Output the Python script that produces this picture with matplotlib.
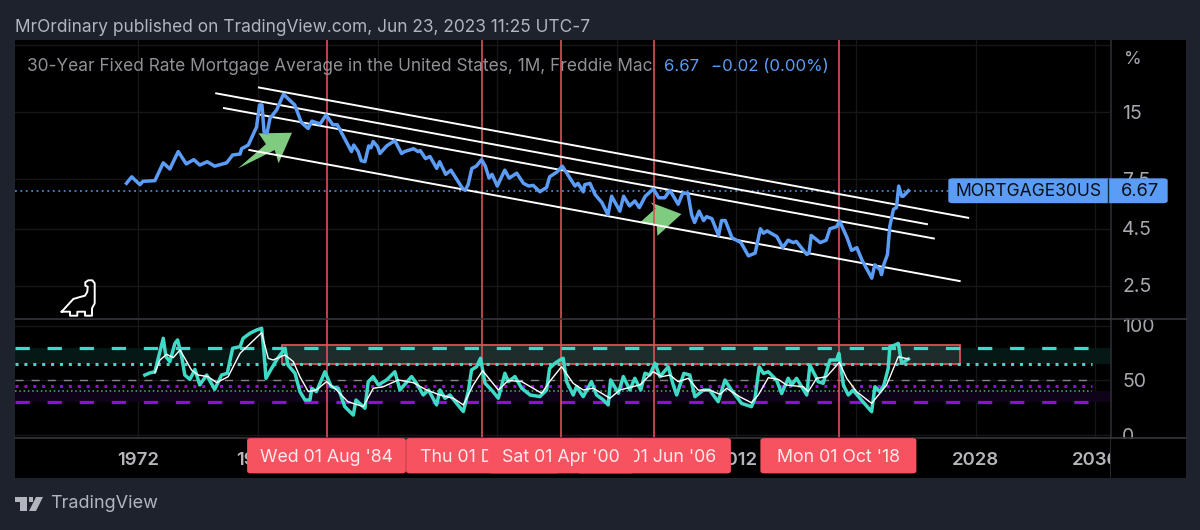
import matplotlib
matplotlib.use("Agg")
import matplotlib.pyplot as plt
from matplotlib.patches import FancyBboxPatch, Polygon, Rectangle
from matplotlib.lines import Line2D

plt.rcParams['font.family'] = ['Inter', 'DejaVu Sans']
plt.rcParams['lines.scale_dashes'] = False

# mortgage rate
rate_years = [1971.2,1971.55,1972.1,1972.3,1973.1,1973.66,1974.1,1974.66,1975.2,1975.7,1976.1,1976.6,1977.1,1977.9,1978.3,1978.8,
    1978.9,1979.35,1979.9,1980.1,1980.26,1980.4,1980.6,1980.8,1981.25,1981.7,1982.0,1982.45,1982.9,1983.35,1983.6,1984.15,
    1984.55,1985.0,1985.3,1985.6,1986.25,1986.4,1986.7,1986.9,1987.15,1987.4,1987.55,1987.7,1988.0,1988.15,1988.6,1989.15,
    1989.6,1989.8,1990.4,1990.7,1990.85,1991.2,1991.5,1991.95,1992.15,1992.55,1992.9,1993.4,1993.7,1993.85,1994.05,1994.3,
    1994.6,1994.95,1995.2,1995.45,1995.65,1996.0,1996.5,1996.8,1997.3,1997.75,1998.1,1998.4,1998.85,1999.3,1999.5,2000.0,
    2000.35,2000.75,2001.2,2001.4,2001.75,2001.85,2002.2,2002.55,2003.0,2003.4,2003.65,2004.2,2004.45,2004.85,2005.2,2005.5,
    2005.9,2006.45,2006.8,2007.2,2007.55,2008.1,2008.4,2008.75,2009.0,2009.2,2009.5,2009.8,2010.0,2010.35,2010.8,2011.0,
    2011.25,2011.7,2012.3,2012.8,2013.25,2013.6,2013.8,2014.05,2014.7,2015.1,2015.45,2015.8,2016.0,2016.7,2016.85,2017.0,
    2017.6,2018.0,2018.25,2018.7,2018.9,2019.4,2019.7,2020.05,2020.4,2021.05,2021.25,2021.6,2021.7,2021.85,2022.1,2022.25,
    2022.5,2022.7,2022.85,2023.05,2023.15,2023.5]
rate_values = [7.2,7.7,7.1,7.35,7.4,8.9,8.35,10.0,8.8,9.2,8.7,9.0,8.6,8.9,9.65,9.75,
    10.3,10.7,12.9,16.2,16.2,12.3,12.1,14.1,15.4,18.1,17.3,16.2,13.5,12.7,13.7,13.3,
    14.6,13.2,13.2,12.1,10.0,10.7,10.0,9.1,9.0,10.6,10.4,11.1,10.5,9.8,10.6,11.2,
    9.8,10.0,10.3,10.0,10.1,9.3,9.5,8.4,9.0,7.9,8.25,7.3,6.8,6.7,7.1,8.4,
    8.6,9.2,8.6,7.6,7.9,7.0,8.25,7.6,8.0,7.2,7.0,7.05,6.6,6.9,7.7,8.1,
    8.6,7.8,7.0,7.2,6.6,7.1,7.2,6.4,5.9,5.2,6.3,5.4,6.3,5.7,6.0,5.6,
    6.3,6.8,6.2,6.2,6.7,5.8,6.5,6.5,5.2,4.8,5.4,4.9,5.1,5.0,4.2,4.9,
    4.9,4.1,3.9,3.4,3.5,4.5,4.3,4.4,4.15,3.7,4.0,3.9,3.95,3.45,3.5,4.2,
    3.9,4.0,4.5,4.6,4.87,4.1,3.6,3.7,3.25,2.7,3.1,2.95,2.8,3.1,3.45,4.6,
    5.5,5.6,7.0,6.3,6.3,6.67]

# oscillator in the lower pane
osc_years = [1972.43,1972.77,1973.1,1973.44,1973.66,1973.84,1974.1,1974.44,1974.62,1974.89,1975.1,1975.44,1975.78,1976.1,1976.56,1977.1,
    1977.56,1977.94,1978.3,1978.8,1979.0,1979.46,1979.9,1980.24,1980.4,1980.53,1980.84,1981.24,1981.8,1982.0,1982.47,1982.8,
    1983.14,1983.47,1983.6,1983.9,1984.47,1984.9,1985.37,1985.8,1986.37,1986.55,1987.15,1987.37,1987.7,1988.04,1988.6,1989.15,
    1989.49,1990.27,1990.6,1991.05,1991.4,1991.94,1992.17,1992.5,1992.83,1993.28,1993.73,1994.06,1994.28,1994.62,1994.88,1995.18,
    1995.62,1996.07,1996.51,1996.74,1997.18,1997.63,1998.2,1998.85,1999.3,1999.5,1999.86,2000.2,2000.41,2000.64,2001.08,2001.3,
    2001.75,2002.3,2002.64,2003.09,2003.42,2003.58,2004.1,2004.43,2004.87,2005.2,2005.6,2005.88,2006.2,2006.55,2006.88,2007.44,
    2007.77,2008.0,2008.48,2008.88,2009.22,2009.78,2010.2,2010.78,2011.23,2011.67,2012.34,2013.0,2013.24,2013.52,2013.8,2014.13,
    2014.68,2015.02,2015.46,2015.69,2016.02,2016.7,2016.91,2017.47,2017.8,2018.25,2018.7,2018.85,2019.15,2019.48,2019.8,2020.26,
    2021.04,2021.26,2021.6,2021.86,2022.15,2022.26,2022.6,2022.82,2023.05,2023.5]
osc_values = [55,57,58,76.4,88.7,71.9,67.3,84,87.2,71.9,55,51,60.2,45.9,55,41.9,
    55,56.6,79.5,81,88.7,93.3,96.3,97.9,75,52,59.6,68.8,79.5,64.2,56.6,39.8,
    32.1,32.1,42.8,39.8,58,44.3,42.8,26,18.3,32.1,24.5,48.9,53.5,45.9,50.5,58,
    41.3,53.6,47.4,36.7,41.3,27.6,41.3,33.7,36.7,29,21.5,39.8,59.7,62.7,70.4,47.4,
    41.3,33.7,56.6,49,53.6,42.9,36.7,35.2,41.3,61.2,65.8,68.9,70.4,49,36.7,44.4,
    35.2,49,36.7,32.2,27.6,50.5,38.3,53.6,41.3,52,41.3,56.6,55,65.8,53.5,62.6,
    45.8,36.7,56.5,55,35.1,41.2,41.2,30.5,50.4,41.2,29,26,33.6,62.6,56.5,58,
    50.4,38,52,45.8,52,36.7,64.2,48.9,47.4,68.8,68.8,74.9,45.8,36.7,41.2,33.6,
    21.4,44.3,39.7,45.8,61.1,81,82.5,84,65.7,69.7]

# white average of the oscillator
avg_years = [1973.1,1973.44,1973.88,1974.33,1974.78,1975.55,1976.0,1976.67,1977.23,1978.0,1978.8,1980.24,1980.68,1981.0,1981.8,1982.36,
    1982.8,1983.36,1983.9,1984.58,1985.25,1986.0,1987.04,1987.7,1988.38,1989.38,1990.38,1991.27,1992.17,1993.06,1993.73,1994.4,
    1995.02,1996.07,1996.74,1997.63,1998.97,1999.5,2000.3,2001.08,2001.75,2002.42,2003.54,2004.2,2005.55,2006.43,2007.0,2007.55,
    2008.1,2008.77,2009.44,2010.2,2010.9,2011.34,2012.23,2013.0,2013.46,2014.13,2014.8,2015.35,2016.47,2016.8,2017.36,2018.03,
    2018.88,2019.37,2020.04,2021.04,2022.04,2022.82,2023.5]
avg_values = [57,68.8,74,71,78,59.6,55,53.5,48,53.5,75,93.9,70.3,68.8,73.4,67.3,
    53.5,39.8,41.3,48.9,41.3,30.6,26,42.8,44.3,50.5,48,41.3,36.7,33.7,27.6,46,
    59,41.3,50,49,38.3,49,62.7,47.4,41.3,42.9,33.7,41.3,46,58,53.5,55,
    48.9,52,41.2,41.2,37.3,42.8,35,29.6,36.7,52.6,51,45.8,44.3,39.7,52,53.5,
    66.6,52,39.7,29,45.8,71.8,69.7]

# channel lines: start year, start rate, end year, end rate
channel_lines = [(1980.06,19.4,2027.5,5.04),(1977.2,18.26,2024.74,4.72),(1977.72,15.68,2025.2,4.07),(1979.42,10.16,2026.93,2.62)]
marker_years = [1984.58,1994.95,2000.25,2006.5,2018.87]
marker_labels = ["Wed 01 Aug '84","Thu 01 Dec '94","Sat 01 Apr '00","Thu 01 Jun '06","Mon 01 Oct '18"]
tick_years = [1972,1980,1988,1996,2004,2012,2020,2028,2036]
price_ticks = [15,7.5,4.5,2.5]
osc_ticks = [100,50,0]
arrow_up = [(1978.66,8.4),(1980.53,10.8),(1980.04,12.07),(1982.27,12.15),(1981.37,8.85),(1981.12,10.16)]
arrow_down = [(2006.27,5.91),(2008.32,5.24),(2006.71,4.18),(2006.66,4.67),(2005.53,4.79),(2006.58,5.55)]
last_rate = 6.67

W, H = 1200, 530
BG = '#1e222d'
BLUE = '#5b9cf6'
TEAL = '#3ddac6'
PURPLE = '#8c0fd6'
RED = '#dc5159'
GRID = '#161618'
GRAY = '#a6a8ae'
XLIM = (1963.71, 2036.97)
L, R, EDGE = 14.5, 1109.8, 1185.5

fig = plt.figure(figsize=(12, 5.3), dpi=100, facecolor=BG)

def px_axes(x0, y0, x1, y1, **kw):
    return fig.add_axes([x0/W, 1-y1/H, (x1-x0)/W, (y1-y0)/H], **kw)

def fx(x):
    return x/W

def fy(y):
    return 1-y/H

def style(ax):
    ax.set_facecolor('black')
    for s in ax.spines.values():
        s.set_visible(False)
    ax.set_xlim(*XLIM)
    ax.set_xticks(tick_years)
    ax.tick_params(length=0, labelbottom=False, labelleft=False)
    ax.grid(True, color=GRID, lw=1)
    ax.set_axisbelow(True)

# right hand panel goes under everything
ax_side = px_axes(R, 40, EDGE, 478, zorder=0)
ax_side.set_facecolor('black')
ax_side.set_xticks([])
ax_side.set_yticks([])
for s in ax_side.spines.values():
    s.set_visible(False)
ax_side.axvline(ax_side.get_xlim()[0], color='#26282e', lw=2)

# top pane
ax = px_axes(L, 40, R, 319, zorder=1)
style(ax)
ax.set_yscale('log')
ax.set_ylim(1.77, 31.7)
ax.minorticks_off()
ax.set_yticks([30]+price_ticks)
ax.set_yticklabels(['']*5)

for up in marker_years:
    ax.axvline(up, color=RED, lw=1.2, zorder=4)
ax.add_patch(Polygon(arrow_up, closed=True, color='#7fcb80', lw=0, zorder=2))
ax.add_patch(Polygon(arrow_down, closed=True, color='#7fcb80', lw=0, zorder=2))
for x0, y0, x1, y1 in channel_lines:
    ax.plot([x0, x1], [y0, y1], color='white', lw=1.4, zorder=5)
ax.axhline(last_rate, color=BLUE, lw=1.1, dashes=(1.3, 2.6), zorder=3)
ax.plot(rate_years, rate_values, color=BLUE, lw=2.5, solid_joinstyle='round', zorder=6)

# lower pane
ax2 = px_axes(L, 319, R, 438, zorder=1)
style(ax2)
ax2.set_ylim(-2.75, 106.4)
ax2.set_yticks(osc_ticks)
ax2.axhspan(65, 80, color='#051815', lw=0, zorder=1)
ax2.axhspan(30, 40, color='#0e0318', lw=0, zorder=1)
ax2.add_patch(Rectangle((1981.6, 65.4), 2026.93-1981.6, 82.3-65.4, facecolor='#1e2d2b', edgecolor=RED, lw=1.3, zorder=1.5))
line_end = 2035.8
ax2.plot([XLIM[0], line_end], [80, 80], color=TEAL, lw=2.3, dashes=(10.3, 12.8), zorder=2)
ax2.plot([XLIM[0], line_end], [30, 30], color=PURPLE, lw=2.3, dashes=(10.3, 12.8), zorder=2)
ax2.plot([XLIM[0], line_end], [65, 65], color=TEAL, lw=2.2, dashes=(2.2, 4.2), zorder=2)
ax2.plot([XLIM[0], line_end], [45, 45], color=PURPLE, lw=2.2, dashes=(2.2, 4.2), zorder=2)
ax2.plot([XLIM[0], line_end], [40, 40], color='#4fa79b', lw=1.1, dashes=(1.1, 2), zorder=2)
ax2.plot([XLIM[0], line_end], [50, 50], color='#80838a', lw=1, dashes=(5.8, 5.8), zorder=2)
for up in marker_years:
    ax2.axvline(up, color=RED, lw=1.2, zorder=2.5)
ax2.plot(osc_years, osc_values, color=TEAL, lw=2.5, zorder=3)
ax2.plot(avg_years, avg_values, color='white', lw=1.0, zorder=4)

# time axis strip
ax3 = px_axes(L, 438, R, 478, zorder=2)
ax3.set_facecolor('black')
ax3.set_xlim(*XLIM)
ax3.set_ylim(478, 438)
ax3.set_xticks([])
ax3.set_yticks([])
for s in ax3.spines.values():
    s.set_visible(False)
for yr in tick_years:
    ax3.text(yr, 460.5, str(yr), color='#b4b6bc', fontsize=13.4, fontweight='semibold', ha='center', va='center', clip_on=True, zorder=1)

# date flags, later ones cover earlier ones
flags = [(1, 406, 560), (3, 577, 731), (0, 247, 406), (2, 488, 634), (4, 760.3, 916.5)]
trans = fig.transFigure
for order, (i, x0, x1) in enumerate(flags):
    fig.add_artist(FancyBboxPatch((fx(x0+1.5), fy(472)), fx(x1-x0-3), fy(439.5)-fy(472), boxstyle='round,pad=0,rounding_size=0.002',
        facecolor='#f7525f', edgecolor='#f7525f', lw=2, transform=trans, zorder=10+2*order))
    fig.text(fx((x0+x1)/2), fy(457.5), marker_labels[i], color='#fdeaec', fontsize=12.8, ha='center', va='center', zorder=11+2*order)
for px_y in [319, 438]:
    fig.add_artist(Line2D([fx(L), fx(EDGE)], [fy(px_y), fy(px_y)], color='#35363b', lw=1.2, transform=trans, zorder=5))

# price scale labels
for val in price_ticks:
    yy = ax.transData.transform((XLIM[0], val))[1]
    fig.text(fx(1122), (yy-1.5)/530, str(val), color=GRAY, fontsize=14, ha='left', va='center', zorder=3)
fig.text(fx(1124.5), fy(60), '%', color=GRAY, fontsize=13, ha='left', va='center', zorder=3)
for val in osc_ticks:
    yy = ax2.transData.transform((XLIM[0], val))[1]
    fig.text(fx(1122), (yy-1.5)/530, str(val), color=GRAY, fontsize=14, ha='left', va='center', zorder=3)
# cover the part of the 0 that runs under the time strip
fig.add_artist(Rectangle((fx(1111), fy(478)), fx(74), fy(438.6)-fy(478), facecolor='black', lw=0, transform=trans, zorder=4))

# last value tag
fig.add_artist(FancyBboxPatch((fx(949), fy(202.5)), fx(218), fy(179)-fy(202.5), boxstyle='round,pad=0,rounding_size=0.003',
    facecolor=BLUE, edgecolor=BLUE, lw=1, transform=trans, zorder=8))
fig.add_artist(Line2D([fx(1108), fx(1108)], [fy(179), fy(203)], color='#10263f', lw=1, transform=trans, zorder=9))
fig.text(fx(1028.6), fy(192), 'MORTGAGE30US', color='#0b0e14', fontsize=12.6, ha='center', va='center', zorder=9)
fig.text(fx(1139.6), fy(192), '6.67', color='#0b0e14', fontsize=13.2, ha='center', va='center', zorder=9)

# header and legend text
fig.text(fx(15), fy(27.5), 'MrOrdinary published on TradingView.com, Jun 23, 2023 11:25 UTC-7', color='#b2b5be', fontsize=12.45, ha='left', va='center')
fig.text(fx(27), fy(66.5), '30-Year Fixed Rate Mortgage Average in the United States, 1M, Freddie Mac', color='#8f9197', fontsize=12.45, ha='left', va='center', zorder=3)
fig.text(fx(664), fy(66.5), '6.67', color=BLUE, fontsize=12.1, ha='left', va='center', zorder=3)
fig.text(fx(711), fy(66.5), '\u22120.02 (0.00%)', color=BLUE, fontsize=12.1, ha='left', va='center', zorder=3)

# dino icon in the pane corner
dino = [(61.7,311.7),(73.3,299),(80,297),(85,295.7),(87.3,291.7),(87.7,286.7),(85.3,285.7),(85.3,282.3),(88.3,280.3),(92.3,280.3),(94.7,283.3),
    (94.7,303.3),(92,308.3),(92,315.7),(85,315.7),(85,311.7),(77.3,311.7),(77.3,315.7),(70,315.7),(70,311.7),(61.7,311.7)]
fig.add_artist(Line2D([fx(a) for a, b in dino], [fy(b) for a, b in dino], color='white', lw=1.4, transform=trans, zorder=6))

# TradingView logo and name
fig.add_artist(Polygon([(fx(14.5),fy(497)),(fx(27),fy(497)),(fx(27),fy(511)),(fx(20),fy(511)),(fx(20),fy(501.5)),(fx(14.5),fy(501.5))], closed=True, color='#b2b5be', lw=0, transform=trans))
fig.add_artist(Polygon([(fx(36),fy(497)),(fx(43),fy(497)),(fx(36),fy(511)),(fx(29),fy(511))], closed=True, color='#b2b5be', lw=0, transform=trans))
fig.add_artist(Polygon([(fx(29),fy(497)),(fx(33),fy(497)),(fx(33),fy(501.5)),(fx(29),fy(501.5))], closed=True, color='#b2b5be', lw=0, transform=trans))
fig.text(fx(50), fy(504), 'TradingView', color='#b2b5be', fontsize=13, ha='left', va='center')

fig.savefig('out.png', dpi=100, facecolor=BG)
